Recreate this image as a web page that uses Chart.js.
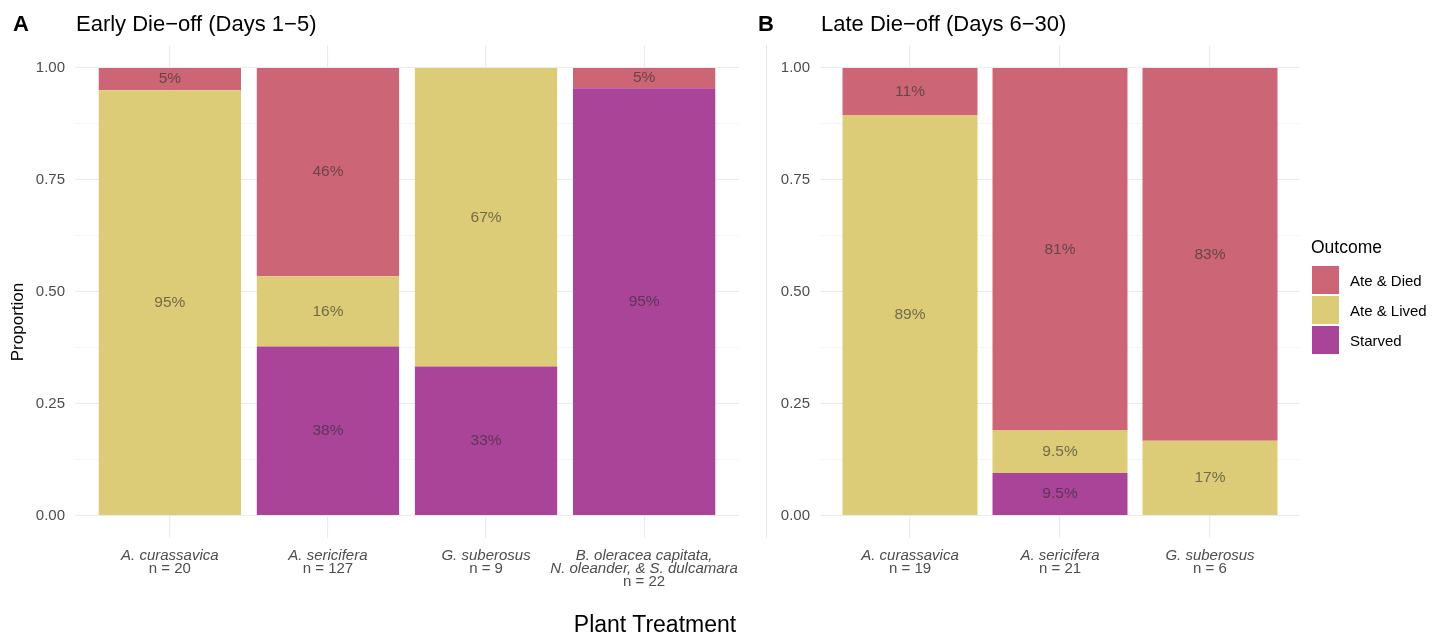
<!DOCTYPE html>
<html><head><meta charset="utf-8">
<script src="https://cdn.jsdelivr.net/npm/chart.js@4.4.1/dist/chart.umd.min.js"></script>
<style>
html,body{margin:0;padding:0;background:#fff;}
#fig{position:relative;width:1446px;height:635px;overflow:hidden;font-family:"Liberation Sans",Arial,Helvetica,sans-serif;color:#000;}
.t{position:absolute;white-space:nowrap;}
.sw{position:absolute;width:27px;height:28px;}
</style></head><body>
<div id="fig">
  <div style="position:absolute;left:0;top:0;width:760px;height:635px"><canvas id="cA"></canvas></div>
  <div style="position:absolute;left:760px;top:0;width:560px;height:635px"><canvas id="cB"></canvas></div>
  <div style="position:absolute;left:766px;top:45px;width:0;height:493px;border-left:1px solid #E6E6E6"></div>
</div>
<script>
// ---------- data ----------
const outcomes = ['Ate & Died', 'Ate & Lived', 'Starved'];
const outcomeColors = ['#CC6677', '#DDCC77', '#AA4499'];

const titleA = 'Early Die\u2212off (Days 1\u22125)';
const catsA = [['A. curassavica'], ['A. sericifera'], ['G. suberosus'], ['B. oleracea capitata,', 'N. oleander, & S. dulcamara']];
const nA = [20, 127, 9, 22];
const diedA   = [0.05, 0.465, 0, 0.045];
const livedA  = [0.95, 0.157, 0.667, 0];
const starvedA = [0, 0.378, 0.333, 0.955];
const diedLblA   = ['5%', '46%', '', '5%'];
const livedLblA  = ['95%', '16%', '67%', ''];
const starvedLblA = ['', '38%', '33%', '95%'];

const titleB = 'Late Die\u2212off (Days 6\u221230)';
const catsB = [['A. curassavica'], ['A. sericifera'], ['G. suberosus']];
const nB = [19, 21, 6];
const diedB   = [0.105, 0.81, 0.833];
const livedB  = [0.895, 0.095, 0.167];
const starvedB = [0, 0.095, 0];
const diedLblB   = ['11%', '81%', '83%'];
const livedLblB  = ['89%', '9.5%', '17%'];
const starvedLblB = ['', '9.5%', ''];

const yMajorTicks = [0, 0.25, 0.5, 0.75, 1];
const yMinorTicks = [0.125, 0.375, 0.625, 0.875];
const yAxisTitle = 'Proportion';
const xAxisTitle = 'Plant Treatment';
const legendTitle = 'Outcome';

// ---------- drawing ----------
const FONT = '"Liberation Sans", Arial, Helvetica, sans-serif';
Chart.defaults.font.family = FONT;

const pctPlugin = {
  id: 'pctLabels',
  afterDatasetsDraw(chart) {
    const ctx = chart.ctx;
    ctx.save();
    ctx.font = '15.5px ' + FONT;
    ctx.fillStyle = 'rgba(45,45,45,0.62)';
    ctx.textAlign = 'center';
    ctx.textBaseline = 'middle';
    chart.data.datasets.forEach((ds, di) => {
      const meta = chart.getDatasetMeta(di);
      meta.data.forEach((el, i) => {
        const t = ds.pctLabels[i];
        if (!t) return;
        ctx.fillText(t, el.x, (el.y + el.base) / 2);
      });
    });
    ctx.restore();
  }
};

function xLabelPlugin(cats, ns) {
  return {
    id: 'xCatLabels',
    afterDraw(chart) {
      const ctx = chart.ctx, xs = chart.scales.x;
      const y0 = chart.chartArea.bottom + 22, lh = 12.8;
      ctx.save();
      ctx.fillStyle = '#4D4D4D';
      ctx.textAlign = 'center';
      ctx.textBaseline = 'alphabetic';
      cats.forEach((lines, i) => {
        const x = xs.getPixelForValue(i + 1);
        ctx.font = 'italic 15px ' + FONT;
        lines.forEach((ln, j) => ctx.fillText(ln, x, y0 + j * lh));
        ctx.font = '15px ' + FONT;
        ctx.fillText('n = ' + ns[i], x, y0 + lines.length * lh);
      });
      ctx.restore();
    }
  };
}

const allYTicks = [...yMajorTicks, ...yMinorTicks].sort((a, b) => a - b);
const isMajor = v => yMajorTicks.some(m => Math.abs(m - v) < 1e-9);

function makeChart(id, cats, ns, series, lbls, o) {
  const n = cats.length;
  const datasets = [2, 1, 0].map(k => ({
    label: outcomes[k],
    data: series[k].map((v, i) => ({ x: i + 1, y: v })),
    backgroundColor: outcomeColors[k],
    borderWidth: 0,
    barPercentage: 0.9,
    categoryPercentage: 1.0,
    pctLabels: lbls[k]
  }));
  return new Chart(document.getElementById(id), {
    type: 'bar',
    data: { datasets },
    options: {
      responsive: true, maintainAspectRatio: false, animation: false, devicePixelRatio: 1,
      layout: { padding: { left: 0, right: o.padRight, top: 45.6, bottom: 0 } },
      plugins: { legend: { display: false }, tooltip: { enabled: false } },
      scales: {
        x: {
          type: 'linear', stacked: true, min: 0.4, max: n + 0.6, offset: false,
          afterBuildTicks: s => { s.ticks = cats.map((c, i) => ({ value: i + 1 })); },
          ticks: { display: false },
          grid: { color: '#EBEBEB', lineWidth: 1.1, drawTicks: false, offset: false },
          border: { display: false },
          afterFit: s => { s.height = 97; }
        },
        y: {
          type: 'linear', stacked: true, min: -0.05, max: 1.05,
          afterBuildTicks: s => { s.ticks = allYTicks.map(v => ({ value: v })); },
          ticks: {
            callback: v => isMajor(v) ? v.toFixed(2) : '',
            padding: 10, color: '#4D4D4D', font: { size: 15 }
          },
          grid: {
            drawTicks: false,
            color: c => (c.tick && isMajor(c.tick.value)) ? '#EBEBEB' : '#F3F3F3',
            lineWidth: c => (c.tick && isMajor(c.tick.value)) ? 1.1 : 0.8
          },
          border: { display: false },
          title: { display: false },
          afterFit: s => { s.width = o.yWidth; }
        }
      }
    },
    plugins: [pctPlugin, xLabelPlugin(cats, ns)]
  });
}

makeChart('cA', catsA, nA, [diedA, livedA, starvedA], [diedLblA, livedLblA, starvedLblA], { padRight: 21, yWidth: 75 });
makeChart('cB', catsB, nB, [diedB, livedB, starvedB], [diedLblB, livedLblB, starvedLblB], { padRight: 20, yWidth: 60 });

// ---------- text (HTML) ----------
const fig = document.getElementById('fig');
function addText(txt, x, baseline, size, extra) {
  const d = document.createElement('div');
  d.className = 't';
  d.textContent = txt;
  d.style.fontSize = size + 'px';
  d.style.lineHeight = size + 'px';
  d.style.top = (baseline - 0.8465 * size) + 'px';
  Object.assign(d.style, extra || {});
  if (extra && extra.center) { d.style.left = '0px'; d.style.width = (2 * x) + 'px'; d.style.textAlign = 'center'; }
  else d.style.left = x + 'px';
  fig.appendChild(d);
  return d;
}
addText('A', 13, 32, 22, { fontWeight: 'bold' });
addText(titleA, 76, 32, 22);
addText('B', 758, 32, 22, { fontWeight: 'bold' });
addText(titleB, 821, 32, 22);
addText(xAxisTitle, 655, 632, 23, { center: true });

// rotated y-axis title
const yt = document.createElement('div');
yt.className = 't';
yt.textContent = yAxisTitle;
Object.assign(yt.style, {
  left: (18 - 60) + 'px', top: (322 - 10) + 'px', width: '120px', height: '20px',
  lineHeight: '20px', fontSize: '17px', textAlign: 'center', transform: 'rotate(-90deg)'
});
fig.appendChild(yt);

addText(legendTitle, 1311, 253.5, 17.5);
outcomes.forEach((name, k) => {
  const sw = document.createElement('div');
  sw.className = 'sw';
  sw.style.left = '1312px';
  sw.style.top = (266 + k * 30) + 'px';
  sw.style.background = outcomeColors[k];
  fig.appendChild(sw);
  addText(name, 1350, 285.5 + k * 30, 15);
});
</script>
</body></html>
